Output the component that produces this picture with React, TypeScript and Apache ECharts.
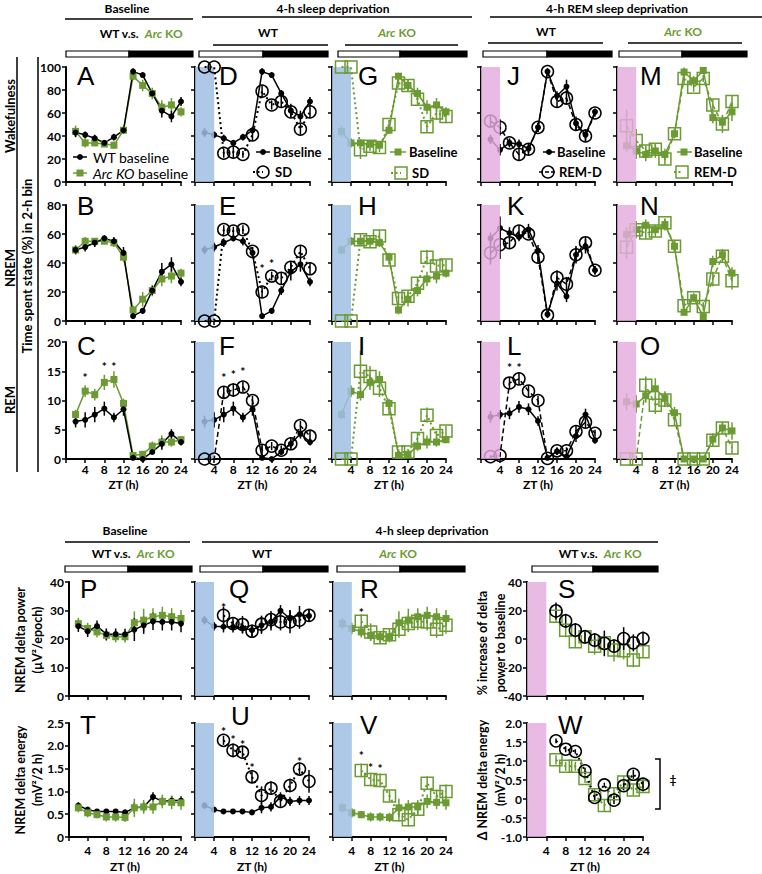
import React, { useEffect, useRef } from 'react';
import * as echarts from 'echarts';

// ---------- x positions (ZT, h) ----------
const ZT = [2, 4, 6, 8, 10, 12, 14, 16, 18, 20, 22, 24];
const ZT_POST = [6, 8, 10, 12, 14, 16, 18, 20, 22, 24];

// ---------- Wakefulness (%) ----------
const wakeWT = [43, 41, 38, 34, 39, 45, 96, 93, 77, 62, 57, 70];
const wakeWTErr = [4, 3, 3, 2, 3, 3, 3, 2, 3, 6, 5, 4];
const wakeKO = [44, 34, 34, 33, 32, 45, 92, 84, 77, 65, 67, 61];
const wakeKOErr = [5, 4, 3, 2, 3, 3, 3, 5, 5, 6, 6, 4];
const wakeWTSD = [100, 100, 25, 26, 24, 41, 79, 67, 70, 61, 46, 61];
const wakeWTSDErr = [0, 0, 4, 5, 3, 5, 5, 4, 5, 4, 5, 5];
const wakeKOSD = [100, 100, 28, 31, 30, 50, 86, 84, 72, 48, 60, 57];
const wakeKOSDErr = [0, 0, 8, 4, 4, 4, 3, 5, 5, 5, 6, 6];
const wakeWTRemBase = [37, 28, 34, 33, 29, 47.5, 96, 75, 83, 51, 41, 61];
const wakeWTRemBaseErr = [4, 5, 3, 4, 4, 4, 2, 4, 6, 6, 5, 3];
const wakeWTRemD = [53, 47.5, 34, 24, 28.5, 47.5, 96, 70, 73, 50, 40, 60];
const wakeWTRemDErr = [5, 7, 4, 5, 5, 4, 3, 5, 6, 5, 5, 3];
const wakeKORemBase = [31.5, 27, 24, 27, 24, 42, 95.6, 88, 97, 56, 52, 61];
const wakeKORemBaseErr = [5, 7, 6, 6, 5, 4, 4, 4, 3, 5, 5, 8];
const wakeKORemD = [49, 36, 27, 28.5, 20, 42, 90, 82.5, 90, 67, 50.5, 70];
const wakeKORemDErr = [14, 10, 5, 5, 5, 4, 5, 4, 3, 5, 8, 5];

// ---------- NREM (%) ----------
const nremWT = [49, 51, 54, 57, 55, 47, 3.4, 7, 21, 34, 39, 27];
const nremWTErr = [3, 3, 3, 2, 3, 4, 2, 2, 3, 6, 5, 3];
const nremKO = [49, 55, 55, 55, 54, 44, 7.6, 15, 21, 29, 31, 33];
const nremKOErr = [3, 3, 2, 2, 3, 3, 3, 5, 4, 5, 5, 3];
const nremWTSD = [0, 0, 63, 62, 63, 48, 20, 31, 29.4, 37, 48, 36];
const nremWTSDErr = [0, 0, 3, 3, 3, 3, 4, 3, 4, 4, 4, 4];
const nremKOSD = [0, 0, 56, 54.7, 58.6, 42, 15.6, 17, 26, 44, 38, 38.6];
const nremKOSDErr = [0, 0, 4, 4, 4, 3, 4, 4, 4, 5, 4, 4];
const nremWTRemBase = [57, 64, 60.7, 58, 63, 48.5, 4.6, 26, 17, 45.7, 51.5, 35];
const nremWTRemBaseErr = [4, 8, 4, 3, 4, 4, 2, 5, 4, 6, 5, 3];
const nremWTRemD = [47, 52.7, 54, 62, 60, 44, 4, 30, 25.4, 45.7, 54, 35];
const nremWTRemDErr = [8, 10, 4, 4, 3, 4, 2, 5, 5, 5, 4, 3];
const nremKORemBase = [59.6, 63, 66, 63, 66.5, 51.5, 6, 16, 3, 41, 45.7, 33];
const nremKORemBaseErr = [5, 5, 4, 3, 4, 4, 2, 3, 2, 4, 4, 4];
const nremKORemD = [50.8, 63, 60.7, 62, 67.7, 51.5, 10.6, 16, 10, 29, 44.6, 27.7];
const nremKORemDErr = [8, 6, 4, 4, 3, 4, 4, 3, 3, 5, 4, 6];

// ---------- REM (%) ----------
const remWT = [6.4, 6.7, 7.6, 8.6, 7.1, 8.5, 0.2, 0, 1.2, 2.6, 4.3, 2.9];
const remWTErr = [1, 1.3, 1.3, 1.2, 0.8, 1.1, 0.3, 0.3, 0.4, 1.0, 0.8, 0.6];
const remKO = [7.6, 11.6, 11, 13.1, 13.6, 9.5, 0.6, 0.8, 2.2, 2.9, 2.9, 3.3];
const remKOErr = [0.8, 1, 1, 1.3, 1.4, 0.8, 0.3, 0.5, 0.8, 1.1, 0.8, 0.6];
const remWTSD = [0, 0, 11.4, 11.8, 12.3, 10, 1.5, 2.2, 1.5, 2.6, 5.7, 3.9];
const remWTSDErr = [0, 0, 1, 1.2, 0.9, 0.8, 0.9, 0.7, 0.8, 0.7, 0.8, 1.0];
const remKOSD = [0, 0, 15, 14.1, 12.1, 8.6, 1.2, 1.2, 3.5, 7.5, 4, 4.8];
const remKOSDErr = [0, 0, 3.5, 1.8, 1.5, 1.0, 0.5, 0.5, 1.0, 1.3, 0.8, 0.9];
const remWTRemBase = [7.2, 7.6, 7.8, 8.9, 8.5, 6.5, 0.2, 1.3, 0.4, 3.9, 7.6, 3.2];
const remWTRemBaseErr = [1, 0.8, 1, 1, 1, 0.8, 0.3, 0.6, 0.4, 1, 1, 0.6];
const remWTRemD = [0.4, 0.6, 13, 13.7, 11.6, 10, 0.1, 1.4, 1.4, 4.7, 6.3, 4.4];
const remWTRemDErr = [0.3, 0.3, 1, 1, 1, 0.8, 0.2, 0.6, 0.6, 1, 1, 0.6];
const remKORemBase = [9.8, 9.4, 10.8, 12, 10.4, 7.9, 0, 0, 0, 3.4, 5.3, 4.8];
const remKORemBaseErr = [1.5, 1.5, 1.2, 1.8, 1.2, 1, 0.1, 0.1, 0.1, 1, 1, 1.5];
const remKORemD = [0, 0, 12.6, 9.2, 10.1, 6.7, 0, 0, 0, 3.2, 5.3, 1.9];
const remKORemDErr = [0, 0, 1.5, 1.5, 1.2, 1, 0, 0, 0, 1, 1, 1];

// ---------- NREM delta power (µV²/epoch) ----------
const dpWT = [24.5, 22.7, 24.5, 21.7, 21.7, 21.6, 23.3, 24.8, 26.2, 26, 26, 25.4];
const dpWTErr = [2, 2, 2, 2, 2, 2, 4, 3, 3, 3, 3, 3];
const dpKO = [25.4, 23.7, 22.5, 21.3, 20.8, 20.8, 25.7, 26.6, 27.8, 28.3, 27.8, 27.2];
const dpKOErr = [2, 2, 2, 2, 2, 2, 4, 4, 3, 3, 3, 3];
const dpWTSdBase = [26.6, 24.5, 24.3, 24.3, 23.9, 23.1, 24.8, 26, 29.9, 27.2, 28.6, 28.1];
const dpWTSdBaseErr = [1.5, 1.5, 2, 2, 2, 2, 3, 3, 2, 3, 3, 2];
const dpWTSD = [null, null, 28.3, 25.4, 25.1, 22.7, 25.2, 26.8, 26, 26, 26.6, 28.3];
const dpWTSDErr = [0, 0, 3, 2, 3, 2, 3, 3, 3, 4, 3, 2];
const dpKOSD = [null, null, 26.2, 22.5, 20.4, 21.5, 23.4, 25.4, 26.2, 26, 23.4, 24.8];
const dpKOSDErr = [0, 0, 2.5, 3, 2, 2, 3, 3, 3, 3, 3, 3];

// ---------- % increase of delta power to baseline ----------
const dpIncWT = [19.7, 12.7, 6.2, 1.5, -0.8, -3.1, -5, 0.3, -2.7, 0.3];
const dpIncWTErr = [6, 5, 5, 4, 5, 9, 4, 8, 6, 5];
const dpIncKO = [16, 6.2, -2, 1.5, -5, -2.7, -7.8, -8.3, -14.8, -9];
const dpIncKOErr = [4, 5, 4, 5, 6, 5, 8, 6, 5, 4];

// ---------- NREM delta energy (mV²/2 h) ----------
const deWT = [0.69, 0.6, 0.56, 0.56, 0.56, 0.54, 0.64, 0.66, 0.88, 0.78, 0.8, 0.8];
const deWTErr = [0.07, 0.05, 0.05, 0.05, 0.05, 0.06, 0.12, 0.1, 0.1, 0.1, 0.1, 0.1];
const deKO = [0.64, 0.53, 0.49, 0.44, 0.44, 0.43, 0.64, 0.66, 0.66, 0.78, 0.76, 0.75];
const deKOErr = [0.1, 0.1, 0.08, 0.1, 0.1, 0.1, 0.2, 0.15, 0.15, 0.15, 0.15, 0.15];
const deWTSD = [null, null, 2.12, 1.9, 1.86, 1.32, 0.91, 1.07, 0.78, 1.13, 1.49, 1.22];
const deWTSDErr = [0, 0, 0.1, 0.15, 0.12, 0.12, 0.2, 0.15, 0.12, 0.15, 0.12, 0.25];
const deKOSD = [null, null, 1.46, 1.26, 1.24, 0.9, 0.49, 0.38, 0.61, 1.18, 0.89, 1.0];
const deKOSDErr = [0, 0, 0.15, 0.15, 0.15, 0.12, 0.15, 0.15, 0.15, 0.15, 0.15, 0.15];
const deDiffWT = [1.53, 1.31, 1.25, 0.74, 0.04, 0.37, -0.03, 0.35, 0.65, 0.39];
const deDiffWTErr = [0.06, 0.08, 0.06, 0.08, 0.1, 0.06, 0.1, 0.12, 0.12, 0.12];
const deDiffKO = [1.03, 0.86, 0.86, 0.54, 0.11, -0.17, 0.14, 0.45, 0.24, 0.33];
const deDiffKOErr = [0.12, 0.12, 0.12, 0.12, 0.15, 0.15, 0.15, 0.15, 0.15, 0.15];

// ---------- significance marks [ZT, y] ----------
const starsC = [[4, 14.4], [8, 16.4], [10, 16.4]];
const starsE = [[14, 38.6], [16, 41.4]];
const starsF = [[6, 14.4], [8, 15.0], [10, 15.4]];
const starsL = [[6, 16.2], [8, 16.2]];
const starsQ = [[6, 32]];
const starsR = [[6, 30.5]];
const starsU = [[6, 2.39], [8, 2.21], [10, 2.09], [12, 1.58], [22, 1.73]];
const starsV = [[6, 1.85], [8, 1.6], [10, 1.56]];

// ---------- styling ----------
const GREEN = '#6b9b32';
const BLUE_SHADE = 'rgba(160,190,228,0.85)';
const PINK_SHADE = 'rgba(228,172,222,0.82)';
const FONT = 'Lato, "Open Sans", sans-serif';
const LETTER_FONT = '"Liberation Sans", Arial, sans-serif';

const AX_WAKE = { min: 0, max: 100, interval: 20 };
const AX_NREM = { min: 0, max: 80, interval: 20 };
const AX_REM = { min: 0, max: 20, interval: 5 };
const AX_DP = { min: 0, max: 40, interval: 10 };
const AX_DE = { min: 0, max: 2.5, interval: 0.5, dec: true };
const AX_INC = { min: -40, max: 40, interval: 20 };
const AX_DIFF = { min: -1, max: 2, interval: 0.5, dec: true };

const TOP_LEFT = [66, 195, 332, 481, 617];
const TOP_W = [115, 115, 114, 114, 115];
const TOP_ROWS = [[67, 115], [205, 116], [342, 117]];
const BOT_LEFT = [69, 195, 333, 527];
const BOT_W = [112, 114, 113, 116];
const BOT_ROWS = [[582, 114], [723, 114]];
const TOP_LETTER_DX = [11, 24, 26, 26, 23];
const BOT_LETTER_DX = [11, 34, 27, 31];
const TOP_LETTER_Y = [76, 206, 346];
const BOT_LETTER_Y = [589, 725];

type Kind = 'wtBase' | 'koBase' | 'wtOpen' | 'koOpen';
type LineT = 'solid' | 'dotted' | 'dashed' | 'none';
const S = (kind: Kind, x: number[], y: (number | null)[], e: number[], line: LineT) => ({ kind, x, y, e, line });

const panels: any[] = [
  { letter: 'A', block: 'top', col: 0, row: 0, ax: AX_WAKE, series: [S('koBase', ZT, wakeKO, wakeKOErr, 'solid'), S('wtBase', ZT, wakeWT, wakeWTErr, 'solid')] },
  { letter: 'D', block: 'top', col: 1, row: 0, ax: AX_WAKE, shade: 'blue', series: [S('wtBase', ZT, wakeWT, wakeWTErr, 'solid'), S('wtOpen', ZT, wakeWTSD, wakeWTSDErr, 'dotted')] },
  { letter: 'G', block: 'top', col: 2, row: 0, ax: AX_WAKE, shade: 'blue', series: [S('koBase', ZT, wakeKO, wakeKOErr, 'solid'), S('koOpen', ZT, wakeKOSD, wakeKOSDErr, 'dotted')] },
  { letter: 'J', block: 'top', col: 3, row: 0, ax: AX_WAKE, shade: 'pink', series: [S('wtBase', ZT, wakeWTRemBase, wakeWTRemBaseErr, 'solid'), S('wtOpen', ZT, wakeWTRemD, wakeWTRemDErr, 'dashed')] },
  { letter: 'M', block: 'top', col: 4, row: 0, ax: AX_WAKE, shade: 'pink', series: [S('koBase', ZT, wakeKORemBase, wakeKORemBaseErr, 'solid'), S('koOpen', ZT, wakeKORemD, wakeKORemDErr, 'dashed')] },

  { letter: 'B', block: 'top', col: 0, row: 1, ax: AX_NREM, series: [S('koBase', ZT, nremKO, nremKOErr, 'solid'), S('wtBase', ZT, nremWT, nremWTErr, 'solid')] },
  { letter: 'E', block: 'top', col: 1, row: 1, ax: AX_NREM, shade: 'blue', stars: starsE, series: [S('wtBase', ZT, nremWT, nremWTErr, 'solid'), S('wtOpen', ZT, nremWTSD, nremWTSDErr, 'dotted')] },
  { letter: 'H', block: 'top', col: 2, row: 1, ax: AX_NREM, shade: 'blue', series: [S('koBase', ZT, nremKO, nremKOErr, 'solid'), S('koOpen', ZT, nremKOSD, nremKOSDErr, 'dotted')] },
  { letter: 'K', block: 'top', col: 3, row: 1, ax: AX_NREM, shade: 'pink', series: [S('wtBase', ZT, nremWTRemBase, nremWTRemBaseErr, 'solid'), S('wtOpen', ZT, nremWTRemD, nremWTRemDErr, 'dashed')] },
  { letter: 'N', block: 'top', col: 4, row: 1, ax: AX_NREM, shade: 'pink', series: [S('koBase', ZT, nremKORemBase, nremKORemBaseErr, 'solid'), S('koOpen', ZT, nremKORemD, nremKORemDErr, 'dashed')] },

  { letter: 'C', block: 'top', col: 0, row: 2, ax: AX_REM, stars: starsC, series: [S('koBase', ZT, remKO, remKOErr, 'solid'), S('wtBase', ZT, remWT, remWTErr, 'solid')] },
  { letter: 'F', block: 'top', col: 1, row: 2, ax: AX_REM, shade: 'blue', stars: starsF, series: [S('wtBase', ZT, remWT, remWTErr, 'solid'), S('wtOpen', ZT, remWTSD, remWTSDErr, 'dashed')] },
  { letter: 'I', block: 'top', col: 2, row: 2, ax: AX_REM, shade: 'blue', series: [S('koBase', ZT, remKO, remKOErr, 'solid'), S('koOpen', ZT, remKOSD, remKOSDErr, 'dotted')] },
  { letter: 'L', block: 'top', col: 3, row: 2, ax: AX_REM, shade: 'pink', stars: starsL, series: [S('wtBase', ZT, remWTRemBase, remWTRemBaseErr, 'solid'), S('wtOpen', ZT, remWTRemD, remWTRemDErr, 'dashed')] },
  { letter: 'O', block: 'top', col: 4, row: 2, ax: AX_REM, shade: 'pink', series: [S('koBase', ZT, remKORemBase, remKORemBaseErr, 'solid'), S('koOpen', ZT, remKORemD, remKORemDErr, 'dashed')] },

  { letter: 'P', block: 'bot', col: 0, row: 0, ax: AX_DP, series: [S('koBase', ZT, dpKO, dpKOErr, 'solid'), S('wtBase', ZT, dpWT, dpWTErr, 'solid')] },
  { letter: 'Q', block: 'bot', col: 1, row: 0, ax: AX_DP, shade: 'blue', stars: starsQ, series: [S('wtBase', ZT, dpWTSdBase, dpWTSdBaseErr, 'solid'), S('wtOpen', ZT, dpWTSD, dpWTSDErr, 'dotted')] },
  { letter: 'R', block: 'bot', col: 2, row: 0, ax: AX_DP, shade: 'blue', stars: starsR, series: [S('koBase', ZT, dpKO, dpKOErr, 'solid'), S('koOpen', ZT, dpKOSD, dpKOSDErr, 'dotted')] },
  { letter: 'S', block: 'bot', col: 3, row: 0, ax: AX_INC, shade: 'pink', series: [S('koOpen', ZT_POST, dpIncKO, dpIncKOErr, 'none'), S('wtOpen', ZT_POST, dpIncWT, dpIncWTErr, 'none')] },
  { letter: 'T', block: 'bot', col: 0, row: 1, ax: AX_DE, series: [S('wtBase', ZT, deWT, deWTErr, 'solid'), S('koBase', ZT, deKO, deKOErr, 'solid')] },
  { letter: 'U', block: 'bot', col: 1, row: 1, ax: AX_DE, shade: 'blue', stars: starsU, letterY: 716, letterDx: 36, series: [S('wtBase', ZT, deWT, deWTErr, 'solid'), S('wtOpen', ZT, deWTSD, deWTSDErr, 'dotted')] },
  { letter: 'V', block: 'bot', col: 2, row: 1, ax: AX_DE, shade: 'blue', stars: starsV, series: [S('koBase', ZT, deKO, deKOErr, 'solid'), S('koOpen', ZT, deKOSD, deKOSDErr, 'dotted')] },
  { letter: 'W', block: 'bot', col: 3, row: 1, ax: AX_DIFF, shade: 'pink', series: [S('koOpen', ZT_POST, deDiffKO, deDiffKOErr, 'dotted'), S('wtOpen', ZT_POST, deDiffWT, deDiffWTErr, 'dotted')] },
];

const colorOf = (k: Kind) => (k === 'wtBase' || k === 'wtOpen' ? '#000' : GREEN);
const dashOf = (l: LineT): any => (l === 'dotted' ? [2, 3] : l === 'dashed' ? [5, 3] : 'solid');

function txt(text: string, x: number, y: number, opts: any = {}) {
  return {
    type: 'text', x, y, z: 20, rotation: opts.rotation || 0, silent: true,
    style: {
      text, fill: opts.fill || '#000', fontSize: opts.size || 12, fontFamily: opts.family || FONT,
      fontWeight: opts.weight || 'bold', fontStyle: opts.style || 'normal',
      align: opts.align || 'center', verticalAlign: 'middle', rich: opts.rich, lineHeight: opts.lineHeight,
    },
  };
}
function hline(x1: number, x2: number, y: number, w = 1.5) {
  return { type: 'line', z: 20, silent: true, shape: { x1, y1: y, x2, y2: y }, style: { stroke: '#000', lineWidth: w } };
}
function vline(x: number, y1: number, y2: number, w = 1.5) {
  return { type: 'line', z: 20, silent: true, shape: { x1: x, y1, x2: x, y2 }, style: { stroke: '#000', lineWidth: w } };
}
function ldBar(x1: number, x2: number, xs: number, y: number) {
  return [
    { type: 'rect', z: 20, silent: true, shape: { x: x1, y, width: xs - x1, height: 6 }, style: { fill: '#fff', stroke: '#000', lineWidth: 1.2 } },
    { type: 'rect', z: 20, silent: true, shape: { x: xs, y, width: x2 - xs, height: 6 }, style: { fill: '#000', stroke: '#000', lineWidth: 1.2 } },
  ];
}
function marker(kind: Kind, cx: number, cy: number) {
  const c = colorOf(kind);
  if (kind === 'wtBase') return { type: 'circle', z: 21, shape: { cx, cy, r: 3 }, style: { fill: c } };
  if (kind === 'koBase') return { type: 'rect', z: 21, shape: { x: cx - 3.5, y: cy - 3.5, width: 7, height: 7 }, style: { fill: c } };
  if (kind === 'wtOpen') return { type: 'circle', z: 21, shape: { cx, cy, r: 6 }, style: { fill: 'rgba(255,255,255,0)', stroke: c, lineWidth: 1.5 } };
  return { type: 'rect', z: 21, shape: { x: cx - 6, y: cy - 6, width: 12, height: 12 }, style: { fill: 'rgba(255,255,255,0)', stroke: c, lineWidth: 1.5 } };
}
function legendItem(kind: Kind, line: LineT, cx: number, cy: number, lx1: number, lx2: number, tx: number, text: string, textOpts: any) {
  const c = colorOf(kind);
  return [
    { type: 'line', z: 20, silent: true, shape: { x1: lx1, y1: cy, x2: lx2, y2: cy }, style: { stroke: c, lineWidth: line === 'dotted' ? 2 : 1.5, lineDash: line === 'dotted' ? [2, 2.5] : line === 'dashed' ? [4, 2] : null } },
    marker(kind, cx, cy),
    txt(text, tx, cy, { align: 'left', ...textOpts }),
  ];
}

function buildOption() {
  const grid: any[] = [];
  const xAxis: any[] = [];
  const yAxis: any[] = [];
  const series: any[] = [];
  const graphic: any[] = [];
  const axisLine = { show: true, onZero: false, lineStyle: { color: '#000', width: 2 } };
  const axisTick = { show: true, length: 4, lineStyle: { color: '#000', width: 1.5 } };

  panels.forEach((p, i) => {
    const isTop = p.block === 'top';
    const left = isTop ? TOP_LEFT[p.col] : BOT_LEFT[p.col];
    const width = isTop ? TOP_W[p.col] : BOT_W[p.col];
    const [top, height] = isTop ? TOP_ROWS[p.row] : BOT_ROWS[p.row];
    grid.push({ left, top, width, height, containLabel: false });
    const xLabels = isTop ? p.row === 2 : p.row === 1;
    const yLabels = p.col === 0 || (!isTop && p.col === 3);
    const ax = p.ax;
    xAxis.push({
      type: 'value', gridIndex: i, min: 0, max: 24, interval: 4,
      axisLine, axisTick, splitLine: { show: false },
      axisLabel: {
        show: xLabels, margin: isTop ? 4 : 7, color: '#000', fontFamily: FONT, fontWeight: 'bold', fontSize: 12,
        formatter: (v: number) => (v === 0 ? '' : String(v)),
      },
      name: xLabels ? 'ZT (h)' : '', nameLocation: 'middle', nameGap: isTop ? 19 : 23,
      nameTextStyle: { color: '#000', fontFamily: FONT, fontWeight: 'bold', fontSize: 12 },
    });
    yAxis.push({
      type: 'value', gridIndex: i, min: ax.min, max: ax.max, interval: ax.interval,
      axisLine, axisTick, splitLine: { show: false },
      axisLabel: {
        show: yLabels, margin: 5, color: '#000', fontFamily: FONT, fontWeight: 'bold', fontSize: 12,
        formatter: (v: number) => (ax.dec ? (Math.abs(v) < 1e-9 ? '0' : v.toFixed(1)) : String(v)),
      },
    });

    if (p.shade) {
      const fill = p.shade === 'blue' ? BLUE_SHADE : PINK_SHADE;
      series.push({
        type: 'custom', xAxisIndex: i, yAxisIndex: i, z: p.shade === 'blue' ? 3 : 6, silent: true,
        data: [[0, 4]], encode: { x: [0, 1] },
        renderItem: (params: any, api: any) => {
          const cs = params.coordSys;
          const a = api.coord([api.value(0), ax.min]);
          const b = api.coord([api.value(1), ax.min]);
          return { type: 'rect', shape: { x: a[0], y: cs.y, width: b[0] - a[0], height: cs.height }, style: { fill } };
        },
      });
    }

    p.series.forEach((sd: any) => {
      const c = colorOf(sd.kind);
      const isBase = sd.kind === 'wtBase' || sd.kind === 'koBase';
      const pts: any[] = [];
      const errs: any[] = [];
      sd.x.forEach((x: number, j: number) => {
        const y = sd.y[j];
        if (y === null || y === undefined) return;
        pts.push([x, y]);
        errs.push([x, y, sd.e[j]]);
      });
      series.push({
        type: 'custom', xAxisIndex: i, yAxisIndex: i, z: isBase ? 1 : 4, silent: true,
        data: errs, encode: { x: 0, y: 1 },
        renderItem: (params: any, api: any) => {
          const x = api.value(0), y = api.value(1), e = api.value(2);
          if (!e) return null;
          const lo = Math.max(ax.min, y - e), hi = Math.min(ax.max, y + e);
          const a = api.coord([x, lo]);
          const b = api.coord([x, hi]);
          return { type: 'line', shape: { x1: a[0], y1: a[1], x2: b[0], y2: b[1] }, style: { stroke: c, lineWidth: 1.5 } };
        },
      });
      const open = !isBase;
      series.push({
        type: 'line', xAxisIndex: i, yAxisIndex: i, z: isBase ? 2 : 5, silent: true, clip: false,
        data: pts,
        symbol: sd.kind === 'wtBase' || sd.kind === 'wtOpen' ? 'circle' : 'rect',
        symbolSize: open ? 12 : sd.kind === 'wtBase' ? 6 : 7,
        showSymbol: true,
        lineStyle: { color: c, width: sd.line === 'dotted' ? 2 : 1.5, type: dashOf(sd.line), opacity: sd.line === 'none' ? 0 : 1 },
        itemStyle: open ? { color: 'rgba(255,255,255,0)', borderColor: c, borderWidth: 1.5 } : { color: c },
      });
    });

    if (p.stars) {
      series.push({
        type: 'custom', xAxisIndex: i, yAxisIndex: i, z: 7, silent: true,
        data: p.stars, encode: { x: 0, y: 1 },
        renderItem: (params: any, api: any) => {
          const pt = api.coord([api.value(0), api.value(1)]);
          return { type: 'text', x: pt[0], y: pt[1] + 3, style: { text: '*', fill: '#000', fontSize: 12, fontWeight: 'bold', fontFamily: FONT, align: 'center', verticalAlign: 'middle', lineHeight: 10 } };
        },
      });
    }

    const dx = p.letterDx !== undefined ? p.letterDx : isTop ? TOP_LETTER_DX[p.col] : BOT_LETTER_DX[p.col];
    const ly = p.letterY !== undefined ? p.letterY : isTop ? TOP_LETTER_Y[p.row] : BOT_LETTER_Y[p.row];
    graphic.push(txt(p.letter, left + dx, ly, { align: 'left', size: 26, family: LETTER_FONT, weight: 'normal', lineHeight: 20 }));
  });

  // ---- Headers (top block) ----
  const wtvsko = { a: { fill: '#000', fontWeight: 'bold', fontSize: 12, fontFamily: FONT }, i: { fill: GREEN, fontWeight: 'bold', fontStyle: 'italic', fontSize: 12, fontFamily: FONT }, g: { fill: GREEN, fontWeight: 'bold', fontSize: 12, fontFamily: FONT } };
  graphic.push(txt('Baseline', 127, 8));
  graphic.push(hline(65, 193, 19));
  graphic.push(txt('4-h sleep deprivation', 333, 8));
  graphic.push(hline(202, 472, 17));
  graphic.push(txt('4-h REM sleep deprivation', 617, 8));
  graphic.push(hline(490, 762, 17));
  graphic.push(txt('{a|WT v.s.  }{i|Arc}{g| KO}', 141, 33, { rich: wtvsko }));
  graphic.push(txt('WT', 268, 32));
  graphic.push(hline(213, 328, 45));
  graphic.push(txt('{i|Arc}{g| KO}', 397, 32, { rich: wtvsko }));
  graphic.push(hline(345, 458, 45));
  graphic.push(txt('WT', 546, 31));
  graphic.push(hline(488, 603, 43));
  graphic.push(txt('{i|Arc}{g| KO}', 683, 31, { rich: wtvsko }));
  graphic.push(hline(628, 742, 43));
  graphic.push(...ldBar(66, 193, 129, 51), ...ldBar(199, 328, 263, 51), ...ldBar(338, 467, 400, 51), ...ldBar(483, 612, 547, 51), ...ldBar(619, 747, 682, 51));

  // ---- Row labels (top block) ----
  graphic.push(txt('Wakefulness', 10, 116, { rotation: Math.PI / 2, size: 13 }));
  graphic.push(txt('NREM', 10, 268, { rotation: Math.PI / 2, size: 13 }));
  graphic.push(txt('REM', 10, 400, { rotation: Math.PI / 2, size: 13 }));
  graphic.push(vline(17, 57, 472));
  graphic.push(vline(38, 57, 472));
  graphic.push(txt('Time spent state (%) in 2-h bin', 27, 266, { rotation: Math.PI / 2, size: 13 }));

  // ---- Legends ----
  graphic.push(...legendItem('wtBase', 'solid', 80, 157, 73, 87, 93, 'WT baseline', { weight: 'normal', size: 14 }));
  graphic.push(...legendItem('koBase', 'solid', 80, 173, 73, 87, 93, '{i|Arc KO}{n| baseline}', {
    weight: 'normal', size: 14,
    rich: { i: { fontStyle: 'italic', fontSize: 14, fontFamily: FONT, fill: '#000' }, n: { fontSize: 14, fontFamily: FONT, fill: '#000' } },
  }));
  graphic.push(...legendItem('wtBase', 'solid', 263, 152, 256, 270, 273, 'Baseline', { size: 13 }));
  graphic.push(...legendItem('wtOpen', 'dotted', 263, 172, 253, 263, 275, 'SD', { size: 13 }));
  graphic.push(...legendItem('koBase', 'solid', 398, 152, 390, 406, 409, 'Baseline', { size: 13 }));
  graphic.push(...legendItem('koOpen', 'dotted', 401, 173, 391, 401, 412, 'SD', { size: 13 }));
  graphic.push(...legendItem('wtBase', 'solid', 549, 152, 543, 555, 557, 'Baseline', { size: 13 }));
  graphic.push(...legendItem('wtOpen', 'dashed', 548, 172, 539, 557, 559, 'REM-D', { size: 13 }));
  graphic.push(...legendItem('koBase', 'solid', 684, 152, 677, 692, 694, 'Baseline', { size: 13 }));
  graphic.push(...legendItem('koOpen', 'dotted', 682, 172, 674, 682, 694, 'REM-D', { size: 13 }));

  // ---- Headers (bottom block) ----
  graphic.push(txt('Baseline', 125, 530));
  graphic.push(hline(65, 190, 542));
  graphic.push(txt('4-h sleep deprivation', 432, 530));
  graphic.push(hline(202, 658, 542));
  graphic.push(txt('{a|WT v.s.  }{i|Arc}{g| KO}', 133, 553, { rich: wtvsko }));
  graphic.push(txt('WT', 262, 553));
  graphic.push(txt('{i|Arc}{g| KO}', 398, 553, { rich: wtvsko }));
  graphic.push(txt('{a|WT v.s.  }{i|Arc}{g| KO}', 600, 553, { rich: wtvsko }));
  graphic.push(...ldBar(65, 192, 128, 566), ...ldBar(200, 328, 263, 566), ...ldBar(337, 465, 400, 566), ...ldBar(532, 658, 593, 566));

  // ---- Y labels (bottom block) ----
  graphic.push(txt('NREM delta power', 20, 640, { rotation: Math.PI / 2, size: 12.5 }));
  graphic.push(txt('(µV²/epoch)', 37, 640, { rotation: Math.PI / 2, size: 12.5 }));
  graphic.push(txt('NREM delta energy', 20, 780, { rotation: Math.PI / 2, size: 12.5 }));
  graphic.push(txt('(mV²/2 h)', 37, 780, { rotation: Math.PI / 2, size: 12.5 }));
  graphic.push(txt('% increase of delta', 482, 643, { rotation: Math.PI / 2, size: 12.5 }));
  graphic.push(txt('power to baseline', 500, 643, { rotation: Math.PI / 2, size: 12.5 }));
  graphic.push(txt('Δ NREM delta energy', 482, 780, { rotation: Math.PI / 2, size: 12.5 }));
  graphic.push(txt('(mV²/2 h)', 500, 780, { rotation: Math.PI / 2, size: 12.5 }));

  // ---- bracket in W ----
  graphic.push({ type: 'polyline', z: 20, silent: true, shape: { points: [[655, 759], [660, 759], [660, 809], [655, 809]] }, style: { stroke: '#000', lineWidth: 1.5, fill: null } });
  graphic.push(txt('‡', 673, 779, { size: 12 }));

  return { animation: false, backgroundColor: '#fff', grid, xAxis, yAxis, series, graphic };
}

export default function App() {
  const ref = useRef<HTMLDivElement>(null);
  useEffect(() => {
    document.body.style.margin = '0';
    const chart = echarts.init(ref.current as HTMLDivElement, undefined, { renderer: 'svg' });
    chart.setOption(buildOption() as any);
    return () => chart.dispose();
  }, []);
  return <div ref={ref} style={{ width: 762, height: 874 }} />;
}
